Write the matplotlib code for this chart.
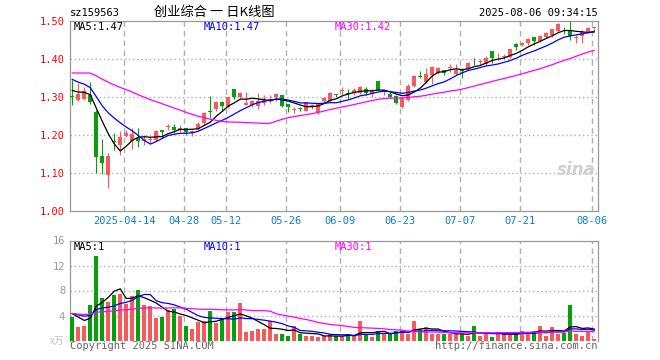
import matplotlib
matplotlib.use('Agg')
import matplotlib.pyplot as plt
import numpy as np
import pandas as pd

# 1. DATEN
# Handelstage 2025-03-31 .. 2025-08-06 (Feiertage der Boerse entfernt)
holidays = ['2025-04-04', '2025-05-01', '2025-05-02', '2025-05-05', '2025-06-02']
dates = [d for d in pd.bdate_range('2025-03-31', '2025-08-06')
         if d.strftime('%Y-%m-%d') not in holidays]

tick_days = ['2025-04-14', '2025-04-28', '2025-05-12', '2025-05-26', '2025-06-09',
             '2025-06-23', '2025-07-07', '2025-07-21', '2025-08-06']
tick_labels = ['2025-04-14', '04-28', '05-12', '05-26', '06-09',
               '06-23', '07-07', '07-21', '08-06']

opens = [1.303, 1.293, 1.296, 1.305, 1.262, 1.146, 1.096, 1.185, 1.175, 1.199,
         1.185, 1.192, 1.186, 1.187, 1.188, 1.214, 1.222, 1.221, 1.215, 1.218,
         1.207, 1.217, 1.232, 1.264, 1.268, 1.287, 1.275, 1.321, 1.302, 1.280,
         1.281, 1.278, 1.284, 1.294, 1.302, 1.306, 1.282, 1.267, 1.271, 1.265,
         1.274, 1.262, 1.289, 1.291, 1.309, 1.316, 1.311, 1.312, 1.312, 1.321,
         1.308, 1.343, 1.316, 1.310, 1.303, 1.275, 1.293, 1.330, 1.356, 1.341,
         1.359, 1.363, 1.372, 1.378, 1.361, 1.371, 1.375, 1.393, 1.393, 1.387,
         1.422, 1.405, 1.406, 1.407, 1.440, 1.437, 1.442, 1.458, 1.449, 1.458,
         1.463, 1.475, 1.478, 1.477, 1.457, 1.461, 1.473, 1.483]
highs = [1.345, 1.337, 1.328, 1.340, 1.266, 1.190, 1.153, 1.205, 1.210, 1.214,
         1.219, 1.219, 1.200, 1.195, 1.215, 1.215, 1.231, 1.231, 1.226, 1.219,
         1.214, 1.236, 1.260, 1.303, 1.290, 1.289, 1.300, 1.322, 1.314, 1.313,
         1.292, 1.310, 1.305, 1.305, 1.310, 1.307, 1.283, 1.275, 1.275, 1.288,
         1.283, 1.286, 1.300, 1.313, 1.309, 1.326, 1.321, 1.324, 1.330, 1.326,
         1.323, 1.344, 1.320, 1.315, 1.305, 1.300, 1.335, 1.359, 1.368, 1.378,
         1.383, 1.380, 1.373, 1.387, 1.387, 1.376, 1.392, 1.404, 1.400, 1.410,
         1.423, 1.416, 1.413, 1.428, 1.442, 1.446, 1.456, 1.460, 1.463, 1.472,
         1.481, 1.495, 1.486, 1.502, 1.464, 1.476, 1.484, 1.486]
lows = [1.280, 1.291, 1.294, 1.282, 1.100, 1.097, 1.060, 1.162, 1.149, 1.196,
        1.165, 1.170, 1.175, 1.180, 1.186, 1.192, 1.214, 1.205, 1.208, 1.200,
        1.198, 1.214, 1.228, 1.245, 1.265, 1.265, 1.272, 1.295, 1.298, 1.279,
        1.275, 1.270, 1.280, 1.286, 1.290, 1.274, 1.262, 1.259, 1.264, 1.263,
        1.270, 1.257, 1.285, 1.287, 1.300, 1.306, 1.295, 1.306, 1.309, 1.306,
        1.302, 1.317, 1.306, 1.297, 1.282, 1.272, 1.290, 1.328, 1.352, 1.338,
        1.336, 1.360, 1.359, 1.367, 1.359, 1.352, 1.373, 1.385, 1.385, 1.384,
        1.390, 1.398, 1.400, 1.404, 1.425, 1.434, 1.438, 1.438, 1.446, 1.455,
        1.460, 1.472, 1.467, 1.452, 1.444, 1.442, 1.470, 1.478]
closes = [1.300, 1.309, 1.317, 1.288, 1.144, 1.126, 1.146, 1.182, 1.196, 1.207,
          1.203, 1.186, 1.189, 1.189, 1.212, 1.208, 1.224, 1.215, 1.220, 1.209,
          1.212, 1.230, 1.260, 1.262, 1.287, 1.276, 1.300, 1.302, 1.311, 1.286,
          1.289, 1.290, 1.293, 1.296, 1.309, 1.278, 1.274, 1.268, 1.269, 1.287,
          1.279, 1.284, 1.299, 1.311, 1.307, 1.318, 1.309, 1.319, 1.326, 1.312,
          1.320, 1.319, 1.318, 1.302, 1.284, 1.297, 1.330, 1.356, 1.354, 1.361,
          1.381, 1.378, 1.364, 1.380, 1.372, 1.369, 1.391, 1.392, 1.395, 1.404,
          1.404, 1.407, 1.408, 1.427, 1.432, 1.444, 1.453, 1.447, 1.461, 1.470,
          1.479, 1.493, 1.476, 1.461, 1.459, 1.473, 1.482, 1.485]
# Volumen in 万
volumes = [3.8, 2.2, 2.3, 5.7, 13.5, 6.8, 6.2, 7.3, 7.5, 5.8,
           7.1, 8.1, 5.7, 5.5, 3.6, 3.7, 4.9, 5.1, 3.9, 2.4,
           1.8, 3.0, 3.1, 4.7, 2.8, 3.4, 4.5, 4.5, 6.0, 1.3,
           1.6, 1.8, 1.9, 3.2, 1.1, 1.0, 0.8, 2.3, 1.0, 0.8,
           0.65, 0.5, 0.65, 1.1, 0.65, 0.65, 1.0, 0.65, 3.1, 1.0,
           0.55, 1.6, 1.1, 1.1, 1.6, 1.6, 1.0, 3.1, 1.9, 2.1,
           1.1, 1.0, 1.1, 1.0, 1.2, 1.0, 0.65, 2.3, 0.8, 1.4,
           0.5, 1.1, 1.1, 1.1, 1.0, 1.6, 1.1, 1.6, 2.4, 0.8,
           2.1, 1.1, 1.2, 5.7, 1.0, 0.65, 1.5, 0.2]

# Werte vor dem Fenster (nur fuer die Startwerte der MA-Linien, aus dem Bild geschaetzt)
prev_close = [1.31, 1.32, 1.29, 1.37, 1.38, 1.39, 1.40, 1.39, 1.38, 1.39,
              1.40, 1.39, 1.38, 1.37, 1.38, 1.39, 1.38, 1.39, 1.38, 1.37,
              1.38, 1.37, 1.38, 1.38, 1.37, 1.33, 1.32, 1.32, 1.32]
prev_vol = [4.3] * 25 + [5.0, 5.0, 3.85, 3.85]

RED = '#f65a5a'
GREEN = '#08a008'
GRID = '#b0b0b0'
BLUE_TXT = '#0b7dcf'
MONO = 'DejaVu Sans Mono'
W, H = 660, 360


def ma(prev, vals, n):
    full = pd.Series(list(prev) + list(vals))
    return full.rolling(n).mean().values[len(prev):]


def px(x, y):
    return x / W, 1 - y / H


o = np.array(opens); h = np.array(highs); l = np.array(lows); c = np.array(closes)
v = np.array(volumes)
x = np.arange(len(c))
up = c >= o
cols = np.where(up, RED, GREEN)

idx_of = {d.strftime('%Y-%m-%d'): i for i, d in enumerate(dates)}
tick_pos = [idx_of[d] - 0.33 for d in tick_days]

fig = plt.figure(figsize=(W / 100, H / 100), dpi=100)
ax = fig.add_axes([70 / W, 1 - 211.3 / H, 527.7 / W, 190 / H])
ax2 = fig.add_axes([70 / W, 1 - 340.5 / H, 527.7 / W, 100 / H])

# 2. KERZEN
ax.vlines(x, l, h, colors=cols, lw=0.8, zorder=3)
body = np.maximum(np.abs(c - o), 0.0022)
ax.bar(x, body, bottom=np.minimum(o, c), width=0.66, color=cols, lw=0, zorder=3)

ma5 = ma(prev_close, c, 5)
ma10 = ma(prev_close, c, 10)
ma30 = ma(prev_close, c, 30)
ax.plot(x, ma5, color='black', lw=0.9, zorder=4)
ax.plot(x, ma10, color='#0000ff', lw=0.9, zorder=4)
ax.plot(x, ma30, color='#ff00ff', lw=0.9, zorder=4)

# 3. VOLUMEN
ax2.bar(x, v, width=0.66, color=cols, lw=0, zorder=3)
vma5 = ma(prev_vol, v, 5)
vma10 = ma(prev_vol, v, 10)
vma30 = ma(prev_vol, v, 30)
ax2.plot(x, vma5, color='black', lw=0.9, zorder=4)
ax2.plot(x, vma10, color='#0000ff', lw=0.9, zorder=4)
ax2.plot(x, vma30, color='#ff00ff', lw=0.9, zorder=4)

# 4. ACHSEN
for a in (ax, ax2):
    a.set_xlim(-0.38, 87.57)
    for s in a.spines.values():
        s.set_color('#999999')
        s.set_linewidth(0.9)
    a.tick_params(length=0)
    a.set_xticks([])
    for t in tick_pos:
        a.axvline(t, color=GRID, lw=1.0, ls=(0, (4, 3)), zorder=1)
ax2.spines['bottom'].set_visible(False)

price_ticks = [1.00, 1.10, 1.20, 1.30, 1.40, 1.50]
ax.set_ylim(1.00, 1.50)
ax.set_yticks(price_ticks)
ax.set_yticklabels(['%.2f' % p for p in price_ticks], color='red',
                   fontfamily=MONO, fontsize=7.5)
for p in price_ticks[1:-1]:
    ax.axhline(p, color=GRID, lw=1.0, ls=(0, (1, 2)), zorder=1)

vol_ticks = [4, 8, 12, 16]
ax2.set_ylim(0, 16)
ax2.set_yticks(vol_ticks)
ax2.set_yticklabels([str(t) for t in vol_ticks], color='#999999',
                    fontfamily=MONO, fontsize=7.5)
for t in vol_ticks[:-1]:
    ax2.axhline(t, color=GRID, lw=1.0, ls=(0, (1, 2)), zorder=1)

for t, lab in zip(tick_pos, tick_labels):
    fig.text(*px(70 + (t + 0.38) * 6, 221.5), lab, color=BLUE_TXT,
             fontfamily=MONO, fontsize=7.5, ha='center', va='center')

# 5. TEXTE
fig.text(*px(70, 12.5), 'sz159563', fontfamily=MONO, fontsize=7.5, va='center')
fig.text(*px(214, 12.5), '创业综合 一 日K线图', family=['Noto Sans CJK SC', 'DejaVu Sans'],
         fontsize=9.5, ha='center', va='center')
fig.text(*px(598, 12.5), '2025-08-06 09:34:15', fontfamily=MONO, fontsize=7.5,
         ha='right', va='center')

fig.text(*px(74, 26.5), 'MA5:%.2f' % ma5[-1], color='black', fontfamily=MONO,
         fontsize=7.5, va='center')
fig.text(*px(204, 26.5), 'MA10:%.2f' % ma10[-1], color='#0000ff', fontfamily=MONO,
         fontsize=7.5, va='center')
fig.text(*px(335, 26.5), 'MA30:%.2f' % ma30[-1], color='#ff00ff', fontfamily=MONO,
         fontsize=7.5, va='center')

fig.text(*px(74, 246.5), 'MA5:%d' % int(vma5[-1]), color='black', fontfamily=MONO,
         fontsize=7.5, va='center')
fig.text(*px(204, 246.5), 'MA10:%d' % int(vma10[-1]), color='#0000ff', fontfamily=MONO,
         fontsize=7.5, va='center')
fig.text(*px(335, 246.5), 'MA30:%d' % int(vma30[-1]), color='#ff00ff', fontfamily=MONO,
         fontsize=7.5, va='center')

fig.text(*px(70, 346), 'Copyright 2025 SINA.COM', color='#666666', fontfamily=MONO,
         fontsize=7.5, va='center')
fig.text(*px(598, 346), 'http://finance.sina.com.cn', color='#666666', fontfamily=MONO,
         fontsize=7.5, ha='right', va='center')
fig.text(*px(64, 341), 'x万', color='#c0c0c0', family=['Noto Sans CJK SC', 'DejaVu Sans'],
         fontsize=7, ha='right', va='center')
fig.text(*px(576, 170), 'sina', color='#d0d0d0', fontsize=12, fontweight='bold',
         fontstyle='italic', ha='center', va='center')

fig.savefig('out.png', dpi=100)
